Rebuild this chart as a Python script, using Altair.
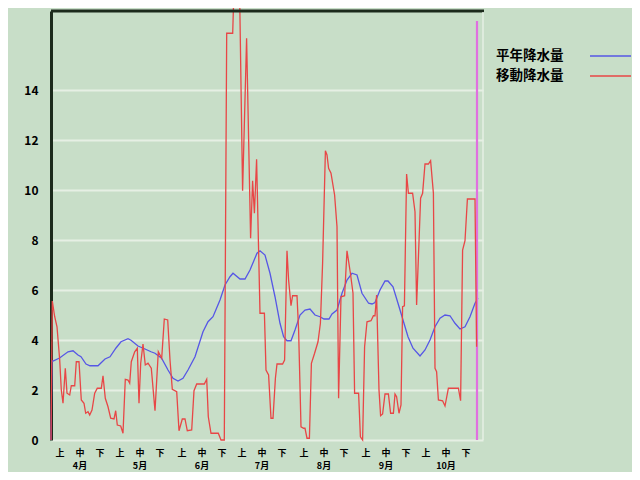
import altair as alt
import pandas as pd

# ---- data ----
# 平年降水量 (blue): day index from Apr 1, value (mm)
normal_day = [0, 0.5, 1, 4.3, 8.5, 11, 13.5, 15, 17.5, 19.5, 23.5, 27, 29.5, 32.5, 35, 38.5, 40,
              43.5, 47, 50, 52, 55.3, 58.5, 61, 63.5, 66, 68.5, 72, 76, 78.5, 81, 84.5, 87, 89.5,
              91, 94.5, 97, 99.5, 103, 104.5, 107, 109.5, 112, 114.5, 116.3, 118, 120, 122, 124.5,
              127, 129.5, 132, 134.5, 136.5, 139, 140.5, 143, 145.5, 148, 150.5, 153, 155.5, 158.8,
              160.5, 162, 164.5, 167, 168.5, 171, 173.5, 176, 178.5, 181, 184.5, 187, 189.5, 192,
              194.5, 197, 199.5, 202, 204.5, 207, 209.5, 212, 213.5]
normal_val = [0, 3.16, 3.16, 3.28, 3.53, 3.57, 3.4, 3.33, 3.04, 2.97, 2.97, 3.24, 3.33, 3.68, 3.93,
              4.05, 3.99, 3.76, 3.64, 3.53, 3.47, 3.27, 2.8, 2.47, 2.36, 2.47, 2.8, 3.33, 4.33, 4.73,
              4.93, 5.6, 6.2, 6.53, 6.67, 6.44, 6.44, 6.8, 7.47, 7.57, 7.4, 6.67, 5.73, 4.67, 4.13,
              3.97, 3.97, 4.4, 5.0, 5.2, 5.24, 5.0, 4.93, 4.84, 4.84, 5.04, 5.2, 5.87, 6.4, 6.67,
              6.6, 5.87, 5.47, 5.44, 5.5, 6.0, 6.36, 6.36, 6.13, 5.47, 4.8, 4.13, 3.67, 3.36, 3.6,
              4.0, 4.53, 4.87, 5.0, 4.97, 4.67, 4.44, 4.53, 4.93, 5.47, 5.67]

# 移動降水量 (red)
moving_day = [0, 0.65, 1.85, 3, 4.35, 5.15, 6, 7.15, 8, 9.35, 10.15, 11.85, 12.65, 14, 15.15, 16.5,
              17.35, 18.5, 19.35, 20.5, 21.85, 23.15, 25.15, 26, 27.15, 28.5, 29.85, 31.5, 32.35,
              33.15, 34.85, 36, 37.15, 38.5, 39.35, 40.15, 41.85, 43.15, 44, 44.85, 46, 47.15, 48.5,
              50.15, 52, 53.65, 55.35, 56.65, 58.35, 59.5, 60.65, 62.85, 64, 65.65, 67, 68.15, 70.35,
              71.5, 72.85, 76.65, 77.85, 78.65, 80, 83.65, 85, 86.65, 87.85, 90.85, 92, 94, 95.8,
              97.8, 99.8, 100.8, 101.7, 102.8, 104.5, 106.7, 107.5, 108.8, 110, 111, 112.2, 113,
              115.8, 116.8, 118, 118.8, 120, 120.8, 123, 123.8, 125, 126.3, 127, 128, 129.2, 130.2,
              131.8, 133.5, 134.7, 135.8, 137.2, 138, 138.8, 140, 141.8, 143, 143.8, 145, 146.8, 148,
              149.7, 151, 151.8, 153.8, 154.7, 155.8, 156.8, 158, 160, 161.2, 162, 162.8, 164, 164.8,
              165.8, 167, 168.7, 169.8, 171.2, 172, 172.8, 174, 175, 175.8, 176.7, 177.8, 178.7,
              180.8, 182, 182.8, 184, 184.8, 185.8, 187, 188.7, 189.8, 191.2, 192, 192.8, 193.7,
              195.8, 197, 198.7, 203.7, 204.8, 205.8, 207, 208.2, 212, 212.8]
moving_val = [0, 5.56, 4.93, 4.53, 3.2, 2.0, 1.47, 2.87, 1.87, 1.8, 2.17, 2.17, 3.13, 3.13, 1.6, 1.47,
              1.07, 1.13, 1.0, 1.2, 1.87, 2.07, 2.07, 2.57, 1.67, 1.33, 0.87, 0.84, 1.17, 0.6, 0.56,
              0.27, 2.43, 2.4, 2.27, 3.13, 3.53, 3.67, 1.47, 3.07, 3.84, 3.0, 3.07, 2.87, 1.17, 3.53,
              3.27, 4.84, 4.8, 3.2, 2.03, 1.93, 0.37, 0.84, 0.84, 0.37, 0.4, 1.97, 2.24, 2.24, 2.43,
              0.93, 0.27, 0.27, 0, 0, 16.27, 16.27, 19.5, 19.5, 9.97, 16.07, 8.07, 10.37, 9.07, 11.23,
              5.07, 5.07, 2.8, 2.6, 0.87, 0.87, 2.47, 3.04, 3.04, 3.2, 7.57, 6.4, 5.37, 5.77, 5.77,
              4.4, 0.53, 0.47, 0.47, 0.07, 0.07, 3.07, 3.47, 3.93, 4.67, 7.07, 11.57, 11.4, 10.87,
              10.67, 9.8, 8.53, 1.67, 5.73, 5.77, 7.57, 6.67, 5.87, 1.87, 1.87, 0.13, 0, 3.73, 4.73,
              4.77, 4.97, 4.97, 5.8, 2.0, 0.97, 1.04, 1.84, 1.84, 1.07, 1.07, 1.84, 1.73, 1.07, 1.4,
              5.33, 5.37, 10.64, 9.87, 9.87, 9.13, 5.4, 7.93, 9.67, 9.87, 11.04, 11.04, 11.17, 9.87,
              2.87, 2.73, 1.6, 1.57, 1.36, 2.07, 2.07, 1.57, 7.6, 7.97, 9.64, 9.64, 3.73]

series_names = ["平年降水量", "移動降水量"]
months = ["4月", "5月", "6月", "7月", "8月", "9月", "10月"]
month_start = [0, 30, 61, 91, 122, 153, 183]
periods = ["上", "中", "下"]
period_offset = [4.5, 14.5, 24.5]
y_ticks = [0, 2, 4, 6, 8, 10, 12, 14]
x_domain = [0, 216]
y_domain = [0, 17.16]
today_day = [213]
today_top = [16.76]

# ---- styles ----
BG = "#C8DEC8"
BLUE = "#5656E6"
RED = "#E84646"
MAGENTA = "#E070E0"
DARK = "#1C2A1C"
GRID = "#E6EFE4"
FONT = "Noto Sans CJK JP"
W, H = 432, 429

# x-axis label tables (period row and month row)
per_pos, per_lab, mon_pos, mon_lab = [], [], [], []
for m, start in zip(months, month_start):
    for p, off in zip(periods, period_offset):
        per_pos.append(start + off)
        per_lab.append(p)
        if p == "中":
            mon_pos.append(start + off)
            mon_lab.append(m)

xscale = alt.Scale(domain=x_domain, nice=False, zero=False)
yscale = alt.Scale(domain=y_domain, nice=False)

xaxis = alt.Axis(labels=False, grid=False, domain=False, ticks=False, title=None)
yaxis = alt.Axis(values=y_ticks, grid=True, gridColor=GRID, gridWidth=2, domain=True,
                 domainColor=DARK, domainWidth=3, ticks=False, title=None, labelFont=FONT,
                 labelFontWeight="bold", labelFontSize=12, labelColor="black", labelPadding=13)

df_normal = pd.DataFrame({"day": normal_day, "value": normal_val})
df_moving = pd.DataFrame({"day": moving_day, "value": moving_val})
df_today = pd.DataFrame({"day": today_day, "lo": [0], "hi": today_top})
df_per = pd.DataFrame({"day": per_pos, "label": per_lab})
df_mon = pd.DataFrame({"day": mon_pos, "label": mon_lab})

blue = alt.Chart(df_normal).mark_line(color=BLUE, strokeWidth=1.3).encode(
    x=alt.X("day:Q", scale=xscale, axis=xaxis),
    y=alt.Y("value:Q", scale=yscale, axis=yaxis),
)
red = alt.Chart(df_moving).mark_line(color=RED, strokeWidth=1.3).encode(
    x=alt.X("day:Q", scale=xscale),
    y=alt.Y("value:Q", scale=yscale),
)
today = alt.Chart(df_today).mark_rule(color=MAGENTA, strokeWidth=2.2).encode(
    x=alt.X("day:Q", scale=xscale),
    y=alt.Y("lo:Q", scale=yscale),
    y2="hi:Q",
)

per_text = alt.Chart(df_per).mark_text(baseline="middle", align="center", font=FONT,
                                       fontSize=9, fontWeight="bold", color="black").encode(
    x=alt.X("day:Q", scale=xscale), y=alt.value(H + 12.5), text="label:N")
mon_text = alt.Chart(df_mon).mark_text(baseline="middle", align="center", font=FONT,
                                       fontSize=9, fontWeight="bold", color="black").encode(
    x=alt.X("day:Q", scale=xscale), y=alt.value(H + 25.5), text="label:N")

one = pd.DataFrame({"a": [0]})
top_border = alt.Chart(one).mark_rule(color=DARK, strokeWidth=3).encode(
    x=alt.value(0), x2=alt.value(W + 1), y=alt.value(0))
right_border = alt.Chart(one).mark_rule(color=GRID, strokeWidth=1.5).encode(
    x=alt.value(W), y=alt.value(1), y2=alt.value(H))

legend_layers = []
for name, color, ly in zip(series_names, [BLUE, RED], [45, 65]):
    d = pd.DataFrame({"name": [name]})
    legend_layers.append(
        alt.Chart(d).mark_text(align="left", baseline="middle", font=FONT, fontSize=13.5,
                               fontWeight="bold", color="black").encode(
            x=alt.value(445), y=alt.value(ly), text="name:N"))
    legend_layers.append(
        alt.Chart(d).mark_rule(color=color, strokeWidth=1.6).encode(
            x=alt.value(539), x2=alt.value(580), y=alt.value(ly)))

chart = alt.layer(
    blue, today, red, top_border, right_border, per_text, mon_text, *legend_layers
).properties(
    width=W, height=H,
    padding={"left": 43, "top": 3, "right": 149, "bottom": 32},
    autosize=alt.AutoSizeParams(type="none"),
    background=BG,
).configure_view(strokeWidth=0)

chart.save("out.html", embed_options={"renderer": "svg", "actions": False})
